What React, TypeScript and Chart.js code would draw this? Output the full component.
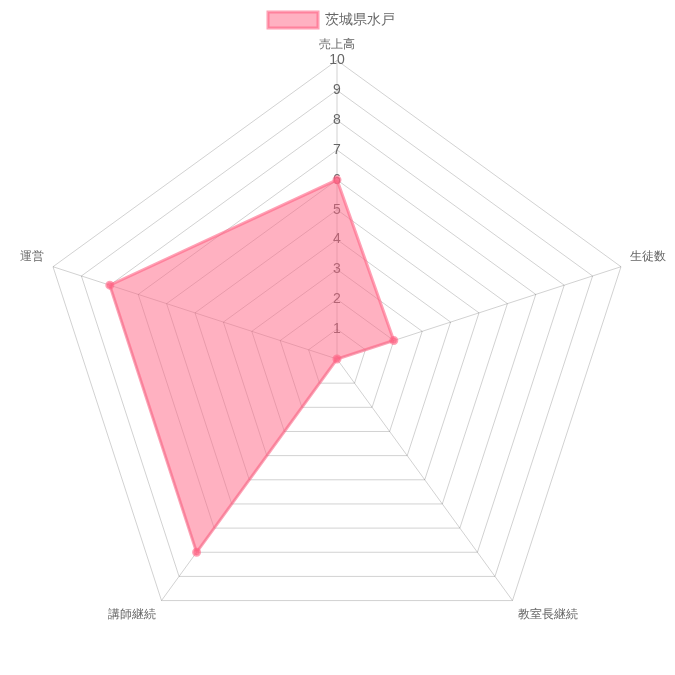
import { useEffect, useRef } from 'react';
import Chart from 'chart.js/auto';

const categories = ['売上高', '生徒数', '教室長継続', '講師継続', '運営'];
const seriesLabel = '茨城県水戸';
const seriesValues = [6, 2, 0, 8, 8];
const tickValues = [0, 1, 2, 3, 4, 5, 6, 7, 8, 9, 10];

// the legend in the reference sits a little left of centre and a bit lower
const legendShift = {
  id: 'legendShift',
  afterLayout(chart: any) {
    if (chart.legend) {
      chart.legend.left -= 12;
      chart.legend.right -= 12;
      chart.legend.top += 8;
      chart.legend.bottom += 8;
    }
  }
};

export default function App() {
  const canvasRef = useRef<HTMLCanvasElement>(null);

  useEffect(() => {
    document.body.style.margin = '0';
    if (!canvasRef.current) return;
    const ctx = canvasRef.current.getContext('2d');
    if (!ctx) return;

    const chart = new Chart(ctx, {
      type: 'radar',
      data: {
        labels: categories,
        datasets: [{
          label: seriesLabel,
          data: seriesValues,
          backgroundColor: 'rgba(255, 99, 132, 0.5)',
          borderColor: 'rgba(255, 99, 132, 0.6)',
          borderWidth: 3,
          pointBackgroundColor: 'rgba(255, 99, 132, 0.6)',
          pointBorderColor: 'rgba(255, 99, 132, 0.6)',
          pointRadius: 3
        }]
      },
      options: {
        animation: false,
        responsive: false,
        layout: { padding: { top: 0, bottom: 0, left: 12, right: 0 } },
        plugins: {
          legend: {
            position: 'top',
            labels: {
              color: '#666',
              padding: 4,
              font: { size: 14, family: "'Helvetica Neue', Helvetica, Arial, sans-serif" },
              boxWidth: 50,
              boxHeight: 16
            }
          },
          tooltip: { enabled: false }
        },
        scales: {
          r: {
            min: tickValues[0],
            max: tickValues[tickValues.length - 1],
            ticks: {
              stepSize: 1,
              showLabelBackdrop: false,
              color: '#666',
              font: { size: 14, family: "'Helvetica Neue', Helvetica, Arial, sans-serif" }
            },
            grid: { color: 'rgba(0, 0, 0, 0.18)' },
            angleLines: { color: 'rgba(0, 0, 0, 0.18)' },
            pointLabels: {
              color: '#666',
              padding: 0,
              font: { size: 12, family: "'Helvetica Neue', Helvetica, Arial, sans-serif" }
            }
          }
        }
      },
      plugins: [legendShift]
    });

    return () => chart.destroy();
  }, []);

  return (
    <div style={{ width: 675, height: 675 }}>
      <canvas ref={canvasRef} width={675} height={675}></canvas>
    </div>
  );
}
